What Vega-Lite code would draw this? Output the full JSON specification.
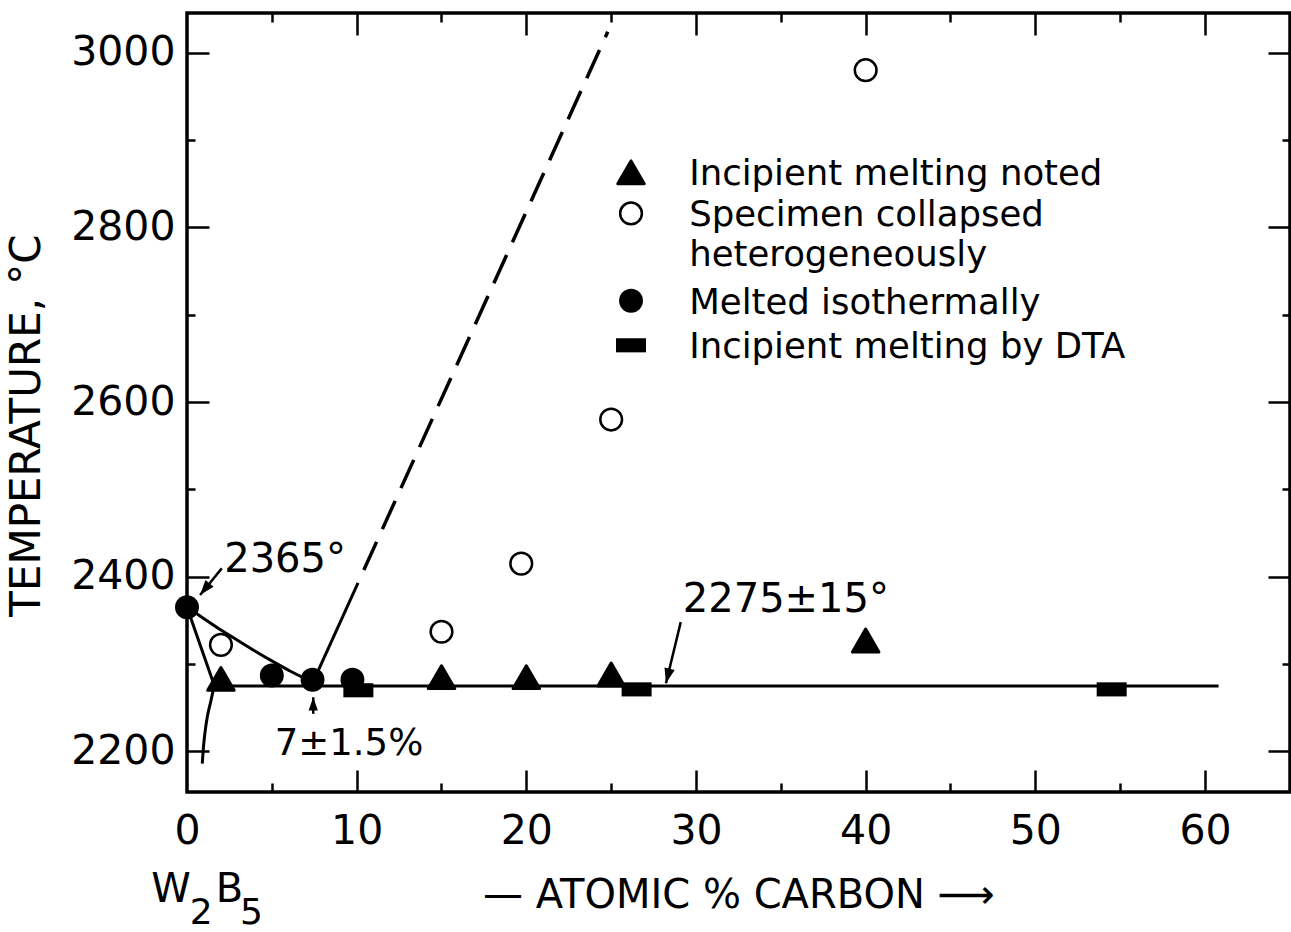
{
  "$schema": "https://vega.github.io/schema/vega-lite/v6.json",
  "width": 1103,
  "height": 779,
  "autosize": {"type": "none"},
  "padding": {"left": 187, "top": 13, "right": 1, "bottom": 140},
  "background": "white",
  "config": {
    "view": {"stroke": "black", "strokeWidth": 3.5},
    "axis": {"domain": false, "grid": false, "tickColor": "black", "tickWidth": 2.5, "labelColor": "black", "labelFont": "DejaVu Sans", "labelFontSize": 41, "titleFont": "DejaVu Sans", "titleColor": "black", "titleFontWeight": "normal", "labelOverlap": false, "labelFlush": false}
  },
  "datasets": {
    "hline": [{"x": 1.6, "x2": 60.8, "y": 2275}],
    "liquidus": [{"x": 0, "y": 2365}, {"x": 1, "y": 2352}, {"x": 2, "y": 2339}, {"x": 3, "y": 2327}, {"x": 4, "y": 2315}, {"x": 5, "y": 2303.6}, {"x": 6, "y": 2292.8}, {"x": 7, "y": 2283.3}, {"x": 7.44, "y": 2280}],
    "solidus": [{"x": 0, "y": 2365}, {"x": 1.6, "y": 2276}],
    "solidusCurve": [{"x": 0.9, "y": 2186}, {"x": 0.97, "y": 2205}, {"x": 1.05, "y": 2220}, {"x": 1.2, "y": 2240}, {"x": 1.4, "y": 2257}, {"x": 1.6, "y": 2275}],
    "solidE": [{"x": 7.44, "y": 2280}, {"x": 10.08, "y": 2393}],
    "dashE": [{"x": 10.08, "y": 2393}, {"x": 24.8, "y": 3024}],
    "arrows": [{"x": 2.05, "y": 2409.6, "x2": 0.77, "y2": 2379}, {"x": 7.44, "y": 2243, "x2": 7.44, "y2": 2262}, {"x": 29.1, "y": 2348, "x2": 28.23, "y2": 2278}],
    "head1": [{"x": 0.77, "y": 2379}],
    "head2": [{"x": 7.44, "y": 2262}],
    "head3": [{"x": 28.23, "y": 2278}],
    "dta": [{"x": 10.1, "y": 2270}, {"x": 26.5, "y": 2271}, {"x": 54.5, "y": 2271}, {"x": 26.17, "y": 2665}],
    "filledC": [{"x": 0, "y": 2365}, {"x": 5, "y": 2287}, {"x": 7.4, "y": 2282}, {"x": 9.75, "y": 2282}, {"x": 26.17, "y": 2716}],
    "openC": [{"x": 2, "y": 2322}, {"x": 15, "y": 2337}, {"x": 19.7, "y": 2415}, {"x": 25, "y": 2580}, {"x": 40, "y": 2980}, {"x": 26.17, "y": 2816}],
    "tri": [{"x": 2, "y": 2283}, {"x": 15, "y": 2285}, {"x": 20, "y": 2285}, {"x": 25, "y": 2288}, {"x": 40, "y": 2327}, {"x": 26.17, "y": 2863}],
    "ann40": [{"x": 5.78, "y": 2419, "t": "2365°"}, {"x": 35.3, "y": 2373, "t": "2275±15°"}],
    "ann36": [{"x": 9.55, "y": 2209, "t": "7±1.5%"}],
    "legendText": [
      {"x": 29.6, "y": 2861, "t": "Incipient melting noted"},
      {"x": 29.6, "y": 2814, "t": "Specimen collapsed"},
      {"x": 29.6, "y": 2768, "t": "heterogeneously"},
      {"x": 29.6, "y": 2714, "t": "Melted isothermally"},
      {"x": 29.6, "y": 2663, "t": "Incipient melting by DTA"}
    ],
    "wLetters": [{"x": -0.94, "y": 2041, "t": "W"}, {"x": 2.5, "y": 2041, "t": "B"}],
    "wDigits": [{"x": 0.83, "y": 2015, "t": "2"}, {"x": 3.8, "y": 2015, "t": "5"}]
  },
  "encoding": {
    "x": {"field": "x", "type": "quantitative", "scale": {"domain": [0, 65.01], "nice": false, "zero": false}, "axis": null},
    "y": {"field": "y", "type": "quantitative", "scale": {"domain": [2153.5, 3045.5], "nice": false, "zero": false}, "axis": null}
  },
  "layer": [
    {
      "data": {"name": "hline"},
      "mark": {"type": "rule", "color": "black", "strokeWidth": 3},
      "encoding": {
        "x": {"field": "x", "type": "quantitative", "scale": {"domain": [0, 65.01], "nice": false, "zero": false}, "axis": {"orient": "top", "values": [5, 15, 25, 35, 45, 55], "labels": false, "tickSize": -9, "title": null}},
        "x2": {"field": "x2"},
        "y": {"field": "y", "type": "quantitative", "scale": {"domain": [2153.5, 3045.5], "nice": false, "zero": false}, "axis": {"orient": "right", "values": [2300, 2500, 2700, 2900], "labels": false, "tickSize": -8, "title": null}}
      }
    },
    {"data": {"name": "liquidus"}, "mark": {"type": "line", "color": "black", "strokeWidth": 3, "interpolate": "monotone"}, "encoding": {}},
    {"data": {"name": "solidus"}, "mark": {"type": "line", "color": "black", "strokeWidth": 3}, "encoding": {}},
    {"data": {"name": "solidusCurve"}, "mark": {"type": "line", "color": "black", "strokeWidth": 3, "interpolate": "monotone"}, "encoding": {}},
    {"data": {"name": "solidE"}, "mark": {"type": "line", "color": "black", "strokeWidth": 3}, "encoding": {}},
    {"data": {"name": "dashE"}, "mark": {"type": "line", "color": "black", "strokeWidth": 3.5, "strokeDash": [31, 14], "strokeDashOffset": 31}, "encoding": {}},
    {"data": {"name": "arrows"}, "mark": {"type": "rule", "color": "black", "strokeWidth": 2.5}, "encoding": {"x2": {"field": "x2"}, "y2": {"field": "y2"}}},
    {"data": {"name": "head1"}, "mark": {"type": "point", "shape": "M0,0L0.35,1L-0.35,1Z", "size": 900, "filled": true, "color": "black", "opacity": 1, "angle": 219}, "encoding": {}},
    {"data": {"name": "head2"}, "mark": {"type": "point", "shape": "M0,0L0.35,1L-0.35,1Z", "size": 700, "filled": true, "color": "black", "opacity": 1, "angle": 0}, "encoding": {}},
    {"data": {"name": "head3"}, "mark": {"type": "point", "shape": "M0,0L0.35,1L-0.35,1Z", "size": 900, "filled": true, "color": "black", "opacity": 1, "angle": 194}, "encoding": {}},
    {
      "data": {"name": "dta"},
      "mark": {"type": "point", "shape": "M-1,-0.47H1V0.47H-1Z", "size": 900, "filled": true, "color": "black", "opacity": 1},
      "encoding": {
        "x": {"field": "x", "type": "quantitative", "scale": {"domain": [0, 65.01], "nice": false, "zero": false}, "axis": {"orient": "top", "values": [10, 20, 30, 40, 50, 60], "labels": false, "tickSize": -22, "title": null}},
        "y": {"field": "y", "type": "quantitative", "scale": {"domain": [2153.5, 3045.5], "nice": false, "zero": false}, "axis": {"orient": "right", "values": [2200, 2400, 2600, 2800, 3000], "labels": false, "tickSize": -22, "title": null}}
      }
    },
    {
      "data": {"name": "filledC"},
      "mark": {"type": "point", "shape": "circle", "size": 573, "filled": true, "color": "black", "opacity": 1},
      "encoding": {
        "x": {"field": "x", "type": "quantitative", "scale": {"domain": [0, 65.01], "nice": false, "zero": false}, "axis": {"orient": "bottom", "values": [10, 20, 30, 40, 50, 60], "labels": false, "tickSize": -22, "title": null}},
        "y": {"field": "y", "type": "quantitative", "scale": {"domain": [2153.5, 3045.5], "nice": false, "zero": false}, "axis": {"orient": "left", "values": [2200, 2400, 2600, 2800, 3000], "labels": false, "tickSize": -22, "title": null}}
      }
    },
    {
      "data": {"name": "openC"},
      "mark": {"type": "point", "shape": "circle", "size": 471, "filled": false, "fill": "white", "fillOpacity": 1, "stroke": "black", "strokeWidth": 2.5, "opacity": 1},
      "encoding": {
        "x": {"field": "x", "type": "quantitative", "scale": {"domain": [0, 65.01], "nice": false, "zero": false}, "axis": {"orient": "bottom", "values": [0, 10, 20, 30, 40, 50, 60], "format": "d", "ticks": false, "labelPadding": 19, "title": "— ATOMIC % CARBON ⟶", "titleFontSize": 40, "titlePadding": 24}},
        "y": {"field": "y", "type": "quantitative", "scale": {"domain": [2153.5, 3045.5], "nice": false, "zero": false}, "axis": {"orient": "left", "values": [2200, 2400, 2600, 2800, 3000], "format": "d", "ticks": false, "labelPadding": 12, "title": "TEMPERATURE, °C", "titleFontSize": 42, "titlePadding": 22, "titleY": 412}}
      }
    },
    {
      "data": {"name": "tri"},
      "mark": {"type": "point", "shape": "triangle-up", "size": 700, "filled": true, "color": "black", "stroke": "black", "strokeWidth": 3, "strokeJoin": "round", "opacity": 1},
      "encoding": {
        "x": {"field": "x", "type": "quantitative", "scale": {"domain": [0, 65.01], "nice": false, "zero": false}, "axis": {"orient": "bottom", "values": [5, 15, 25, 35, 45, 55], "labels": false, "tickSize": -9, "title": null}},
        "y": {"field": "y", "type": "quantitative", "scale": {"domain": [2153.5, 3045.5], "nice": false, "zero": false}, "axis": {"orient": "left", "values": [2300, 2500, 2700, 2900], "labels": false, "tickSize": -8, "title": null}}
      }
    },
    {"data": {"name": "ann40"}, "mark": {"type": "text", "font": "DejaVu Sans", "fontSize": 40, "align": "center", "baseline": "middle", "color": "black"}, "encoding": {"text": {"field": "t"}}},
    {"data": {"name": "ann36"}, "mark": {"type": "text", "font": "DejaVu Sans", "fontSize": 37, "align": "center", "baseline": "middle", "color": "black"}, "encoding": {"text": {"field": "t"}}},
    {"data": {"name": "legendText"}, "mark": {"type": "text", "font": "DejaVu Sans", "fontSize": 35.5, "align": "left", "baseline": "middle", "color": "black"}, "encoding": {"text": {"field": "t"}}},
    {"data": {"name": "wLetters"}, "mark": {"type": "text", "font": "DejaVu Sans", "fontSize": 40, "align": "center", "baseline": "middle", "color": "black"}, "encoding": {"text": {"field": "t"}}},
    {"data": {"name": "wDigits"}, "mark": {"type": "text", "font": "DejaVu Sans", "fontSize": 36, "align": "center", "baseline": "middle", "color": "black"}, "encoding": {"text": {"field": "t"}}}
  ],
  "resolve": {"axis": {"x": "independent", "y": "independent"}}
}
